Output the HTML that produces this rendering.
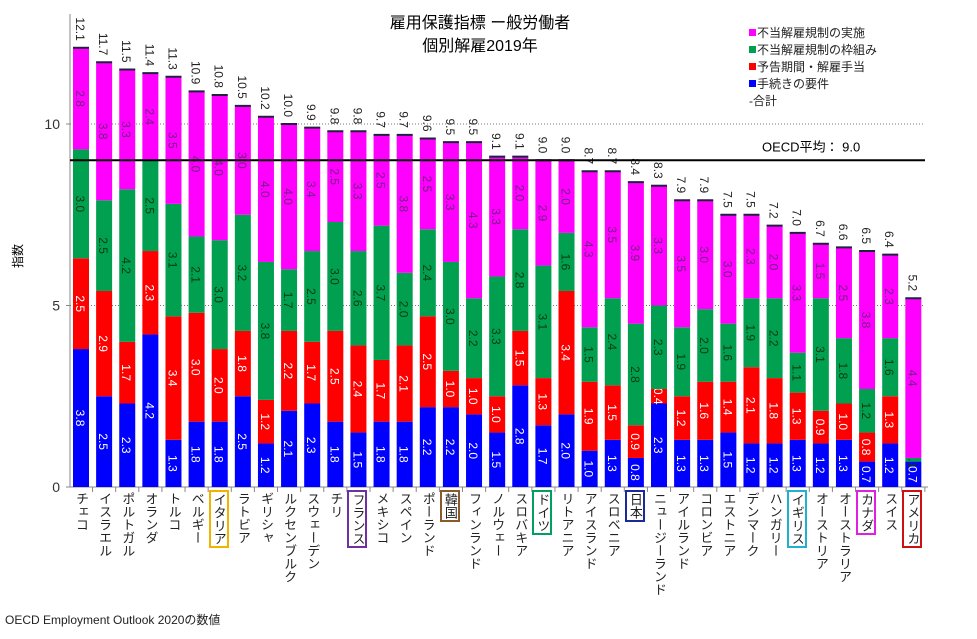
<!DOCTYPE html>
<html><head><meta charset="utf-8"><style>
body{margin:0;background:#fff;}
#wrap{position:relative;width:977px;height:639px;overflow:hidden;font-family:"Liberation Sans","Noto Sans CJK JP",sans-serif;}
.cat{position:absolute;top:492px;writing-mode:vertical-rl;font-size:13px;line-height:16px;color:#222;letter-spacing:0px;}
.boxed{border:2px solid;padding:1px 0;top:490px;}
</style></head><body>
<div id="wrap">
<svg id="svg" width="977" height="639" style="position:absolute;left:0;top:0"></svg>
</div>
<script>
const categories=["チェコ","イスラエル","ポルトガル","オランダ","トルコ","ベルギー","イタリア","ラトビア","ギリシャ","ルクセンブルク","スウェーデン","チリ","フランス","メキシコ","スペイン","ポーランド","韓国","フィンランド","ノルウェー","スロバキア","ドイツ","リトアニア","アイスランド","スロベニア","日本","ニュージーランド","アイルランド","コロンビア","エストニア","デンマーク","ハンガリー","イギリス","オーストリア","オーストラリア","カナダ","スイス","アメリカ"];
const procedures=[3.8,2.5,2.3,4.2,1.3,1.8,1.8,2.5,1.2,2.1,2.3,1.8,1.5,1.8,1.8,2.2,2.2,2.0,1.5,2.8,1.7,2.0,1.0,1.3,0.8,2.3,1.3,1.3,1.5,1.2,1.2,1.3,1.2,1.3,0.7,1.2,0.7];
const notice=[2.5,2.9,1.7,2.3,3.4,3.0,2.0,1.8,1.2,2.2,1.7,2.5,2.4,1.7,2.1,2.5,1.0,1.0,1.0,1.5,1.3,3.4,1.9,1.5,0.9,0.4,1.2,1.6,1.4,2.1,1.8,1.3,0.9,1.0,0.8,1.3,0.0];
const framework=[3.0,2.5,4.2,2.5,3.1,2.1,3.0,3.2,3.8,1.7,2.5,3.0,2.6,3.7,2.0,2.4,3.0,2.2,3.3,2.8,3.1,1.6,1.5,2.4,2.8,2.3,1.9,2.0,1.6,1.9,2.2,1.1,3.1,1.8,1.2,1.6,0.1];
const enforcement=[2.8,3.8,3.3,2.4,3.5,4.0,4.0,3.0,4.0,4.0,3.4,2.5,3.3,2.5,3.8,2.5,3.3,4.3,3.3,2.0,2.9,2.0,4.3,3.5,3.9,3.3,3.5,3.0,3.0,2.3,2.0,3.3,1.5,2.5,3.8,2.3,4.4];
const totals=[12.1,11.7,11.5,11.4,11.3,10.9,10.8,10.5,10.2,10.0,9.9,9.8,9.8,9.7,9.7,9.6,9.5,9.5,9.1,9.1,9.0,9.0,8.7,8.7,8.4,8.3,7.9,7.9,7.5,7.5,7.2,7.0,6.7,6.6,6.5,6.4,5.2];
const yTicks=[0,5,10];
const oecdAvg=9.0;
const highlights={"イタリア":"#f0b400","フランス":"#7030a0","韓国":"#8b5a2b","ドイツ":"#00a060","日本":"#1a2a9a","イギリス":"#20b0d0","カナダ":"#e020e0","アメリカ":"#d01010"};

const NS="http://www.w3.org/2000/svg";
const svg=document.getElementById('svg');
const wrap=document.getElementById('wrap');
const x0=70,x1=925,base=487,ppu=36.3;
const y=v=>base-v*ppu;
const step=23.12,bw=16;
const xc=i=>81+i*step;
function mk(tag,attrs){const e=document.createElementNS(NS,tag);for(const k in attrs)e.setAttribute(k,attrs[k]);svg.appendChild(e);return e;}
const sans='Liberation Sans, Noto Sans CJK JP, sans-serif';

let t=mk('text',{x:480,y:28,'text-anchor':'middle','font-size':16,'font-family':sans});t.textContent='雇用保護指標 ー般労働者';


t=mk('text',{x:480,y:51,'text-anchor':'middle','font-size':16,'font-family':sans});t.textContent='個別解雇2019年';



yTicks.forEach(v=>{
  if(v>0){const g=mk('line',{x1:x0,x2:x1,y1:y(v),y2:y(v),stroke:'#777','stroke-dasharray':'1,2'});
  
  }
  const l=mk('text',{x:60,y:y(v)+5,'text-anchor':'end','font-size':14,fill:'#333'});l.textContent=v;
  
  
  mk('line',{x1:x0-4,x2:x0,y1:y(v),y2:y(v),stroke:'#888'});
});
let ax=mk('line',{x1:x0,x2:x0,y1:y(0),y2:14,stroke:'#888'});


ax=mk('line',{x1:x0,x2:x1+3,y1:base,y2:base,stroke:'#888'});


t=mk('text',{x:0,y:0,'font-size':12,transform:'translate(22,268) rotate(-90)'});t.textContent='指数';



const series=[[procedures,'#0000ff','#fff'],[notice,'#ff0000','#fff'],[framework,'#00a050','#0a3a10'],[enforcement,'#ff00ff','#702080']];
categories.forEach((c,i)=>{
  let acc=0;const cx=xc(i);
  mk('line',{x1:cx+step/2,x2:cx+step/2,y1:base,y2:base+5,stroke:'#888'});
  series.forEach(([arr,col,tc],si)=>{
    const v=arr[i];const yt=y(acc+v),yb=y(acc);
    const r=mk('rect',{x:cx-bw/2,y:yt,width:bw,height:Math.max(0,yb-yt),fill:col});
    
    
    if(v>0){
      const lb=mk('text',{x:0,y:0,'font-size':12,fill:tc,'text-anchor':'middle',transform:`translate(${cx-5},${(yt+yb)/2}) rotate(90)`});
      lb.textContent=v.toFixed(1);
      
      
    }
    acc+=v;
  });
  const top=y(totals[i]);
  const tm=mk('line',{x1:cx-bw/2,x2:cx+bw/2,y1:top,y2:top,stroke:'#202040','stroke-width':2});
  
  
  const tl=mk('text',{x:0,y:0,'font-size':12,fill:'#222',transform:`translate(${cx-5},${top-7}) rotate(90)`,'text-anchor':'end'});
  tl.textContent=totals[i].toFixed(1);
  
  
  const d=document.createElement('div');
  d.className='cat'+(highlights[c]?' boxed':'');
  d.textContent=c;
  d.style.left=(cx-8-(highlights[c]?3:0))+'px';
  if(highlights[c])d.style.borderColor=highlights[c];
  
  
  wrap.appendChild(d);
});
let ol=mk('line',{x1:x0,x2:x1,y1:y(oecdAvg),y2:y(oecdAvg),stroke:'#000','stroke-width':2});


t=mk('text',{x:762,y:y(oecdAvg)-9,'font-size':13});t.textContent='OECD平均： '+oecdAvg.toFixed(1);


const leg=[['#ff00ff','不当解雇規制の実施'],['#00a050','不当解雇規制の枠組み'],['#ff0000','予告期間・解雇手当'],['#0000ff','手続きの要件']];
leg.forEach(([c,l],k)=>{
  const yy=37+k*17;
  const s=mk('rect',{x:749,y:yy-8,width:7,height:7,fill:c});
  
  
  const tx=mk('text',{x:757,y:yy,'font-size':12,fill:'#222'});tx.textContent=l;
  
  
});
let lt=mk('text',{x:749,y:105,'font-size':12,fill:'#222'});lt.textContent='-合計';


let f=mk('text',{x:5,y:624,'font-size':12,fill:'#222'});f.textContent='OECD Employment Outlook 2020の数値';


</script>
</body></html>
